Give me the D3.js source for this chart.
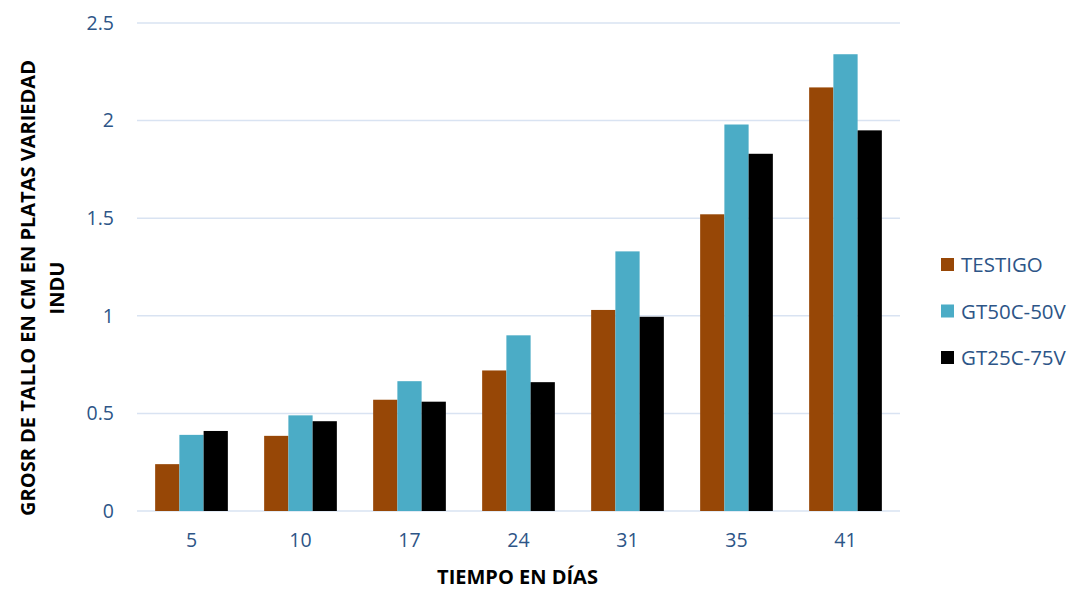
<!DOCTYPE html>
<html>
<head>
<meta charset="utf-8">
<script src="https://cdn.jsdelivr.net/npm/d3@7"></script>
<style>
  html, body { margin: 0; padding: 0; background: #fff; }
  svg { display: block; font-family: "Open Sans", sans-serif; }
</style>
</head>
<body>
<svg id="chart" width="1073" height="589"></svg>
<script>
// Stem thickness (cm) over time for three treatments
const days = ["5", "10", "17", "24", "31", "35", "41"];
const seriesNames = ["TESTIGO", "GT50C-50V", "GT25C-75V"];
const testigo = [0.24, 0.385, 0.57, 0.72, 1.03, 1.52, 2.17];
const gt50c50v = [0.39, 0.49, 0.665, 0.90, 1.33, 1.98, 2.34];
const gt25c75v = [0.41, 0.46, 0.56, 0.66, 0.995, 1.83, 1.95];
const yTicks = [0, 0.5, 1, 1.5, 2, 2.5];
const colors = ["#974706", "#4BACC6", "#000000"];

const seriesValues = [testigo, gt50c50v, gt25c75v];
const rows = days.map((d, i) => ({ day: d, values: seriesValues.map(s => s[i]) }));

const svg = d3.select("#chart");
const margin = { left: 137, right: 173, top: 23, bottom: 78 };
const W = 1073, H = 589;
const innerW = W - margin.left - margin.right;
const innerH = H - margin.top - margin.bottom;

const g = svg.append("g").attr("transform", `translate(${margin.left},${margin.top})`);

const x = d3.scaleBand().domain(days).range([0, innerW]).paddingInner(0.333).paddingOuter(0.1665);
const xs = d3.scaleBand().domain(d3.range(seriesNames.length)).range([0, x.bandwidth()]);
const y = d3.scaleLinear().domain([0, 2.5]).range([innerH, 0]);

// Horizontal gridlines
g.append("g")
  .selectAll("line")
  .data(yTicks)
  .join("line")
  .attr("x1", 0).attr("x2", innerW)
  .attr("y1", d => y(d)).attr("y2", d => y(d))
  .attr("stroke", "#D9E3F2").attr("stroke-width", 1.5);

// Bars
const groups = g.append("g").selectAll("g")
  .data(rows)
  .join("g")
  .attr("transform", d => `translate(${x(d.day)},0)`);

groups.selectAll("rect")
  .data(d => d.values.map((v, k) => ({ k, v })))
  .join("rect")
  .attr("x", d => xs(d.k))
  .attr("width", xs.bandwidth())
  .attr("y", d => y(d.v))
  .attr("height", d => y(0) - y(d.v))
  .attr("fill", d => colors[d.k]);

// Y axis labels
const yAxis = g.append("g").call(d3.axisLeft(y).tickValues(yTicks).tickSize(0).tickPadding(23).tickFormat(d3.format("")));
yAxis.select(".domain").remove();
yAxis.selectAll("text").attr("font-size", 19.5).attr("fill", "#2D5587").attr("font-family", "Open Sans, sans-serif");

// X axis labels
const xAxis = g.append("g").attr("transform", `translate(0,${innerH})`)
  .call(d3.axisBottom(x).tickSize(0).tickPadding(22));
xAxis.select(".domain").remove();
xAxis.selectAll("text").attr("font-size", 19.5).attr("fill", "#2D5587").attr("font-family", "Open Sans, sans-serif");

// Axis titles
svg.append("text")
  .attr("x", margin.left + innerW / 2 - 1).attr("y", 584)
  .attr("text-anchor", "middle")
  .attr("font-size", 20).attr("font-weight", "bold").attr("fill", "#000")
  .text("TIEMPO EN DÍAS");

const yTitle = svg.append("text")
  .attr("transform", "translate(0,288) rotate(-90)")
  .attr("text-anchor", "middle")
  .attr("font-size", 20).attr("font-weight", "bold").attr("fill", "#000");
yTitle.append("tspan").attr("x", 0).attr("y", 35).text("GROSR DE TALLO EN CM EN PLATAS VARIEDAD");
yTitle.append("tspan").attr("x", 0).attr("y", 64).text("INDU");

// Legend
const legend = svg.append("g").attr("transform", "translate(941,258)");
const items = legend.selectAll("g")
  .data(seriesNames)
  .join("g")
  .attr("transform", (d, i) => `translate(0,${i * 46.5})`);
items.append("rect").attr("width", 13).attr("height", 13).attr("fill", (d, i) => colors[i]);
items.append("text")
  .attr("x", 20).attr("y", 14)
  .attr("font-size", 20.5).attr("fill", "#2D5587")
  .text(d => d);
</script>
</body>
</html>
